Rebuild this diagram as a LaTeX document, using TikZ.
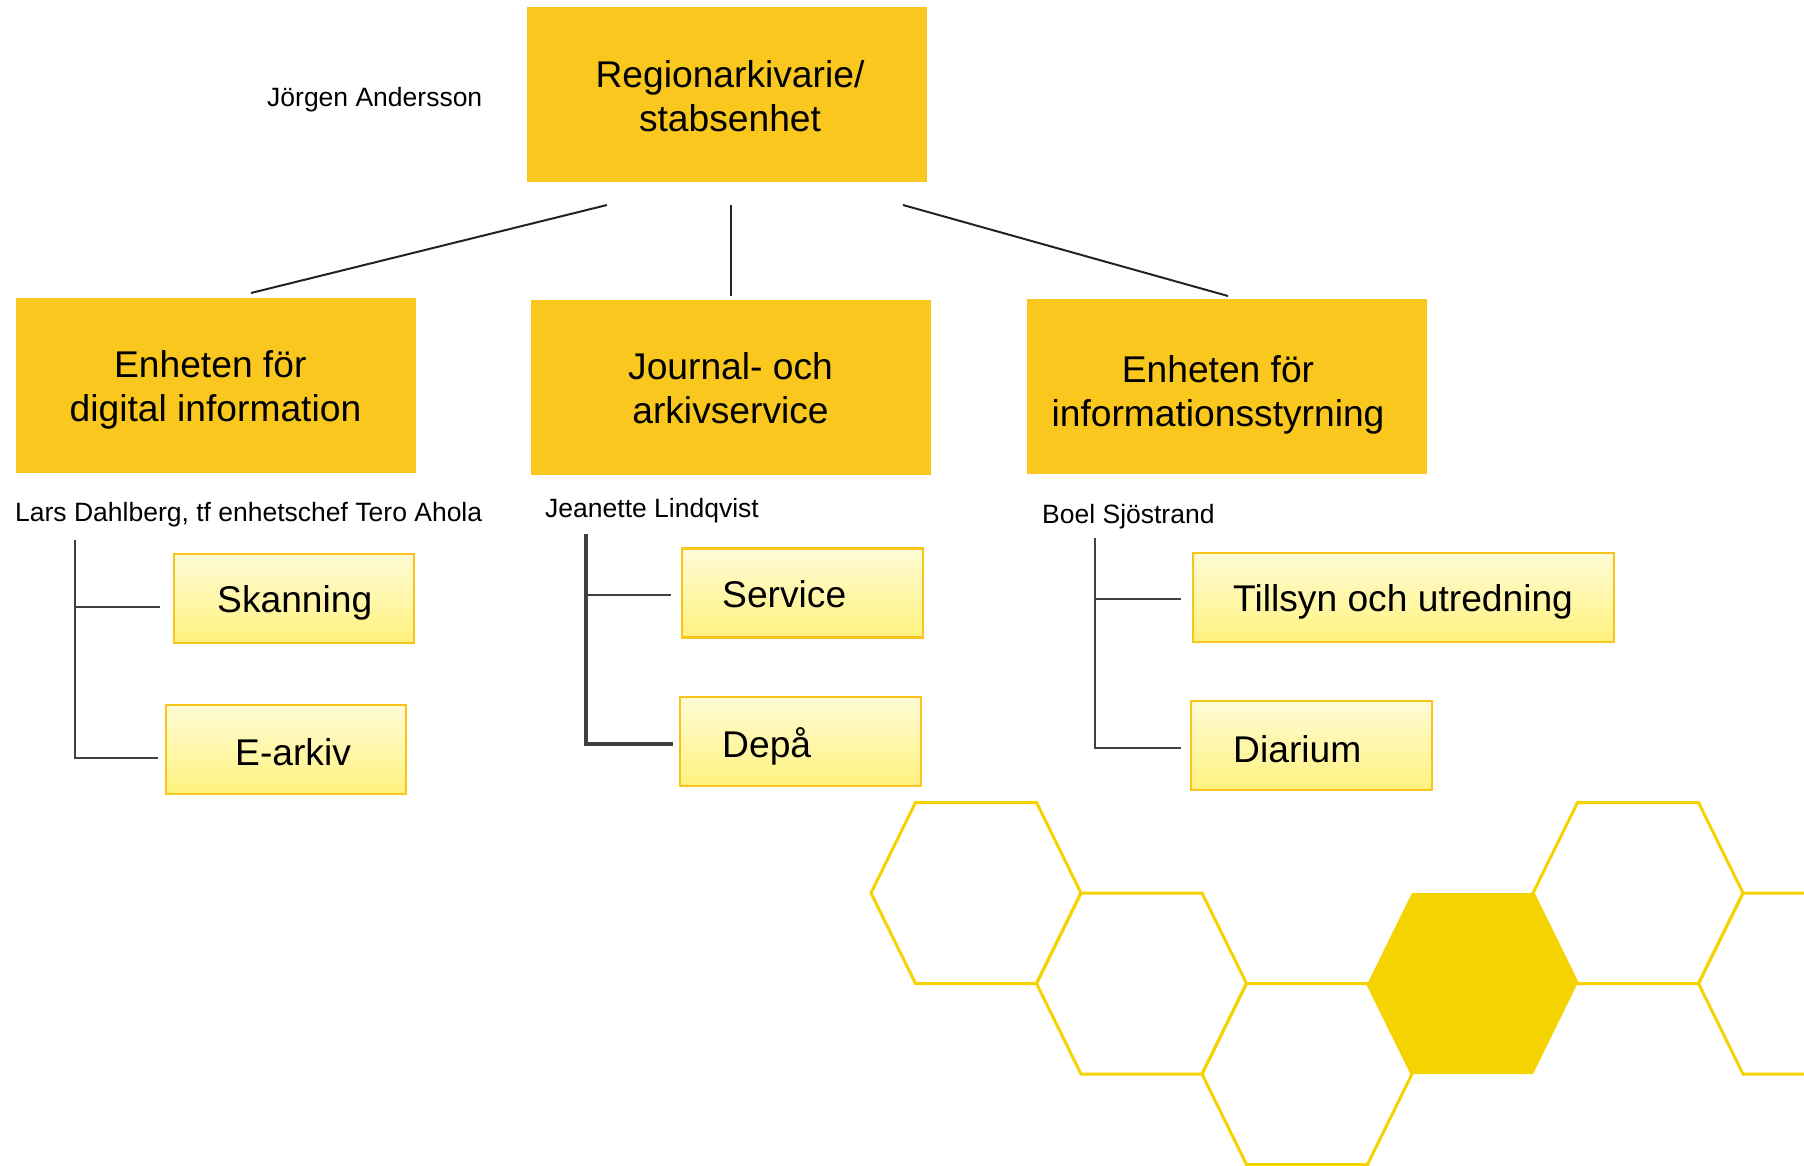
\documentclass[tikz,border=0pt]{standalone}
\usepackage{fontspec}
\setmainfont{Liberation Sans}
\usetikzlibrary{positioning}
\definecolor{unitorange}{HTML}{F9C71E}
\definecolor{tasktop}{HTML}{FFFBD6}
\definecolor{taskbottom}{HTML}{FFF27E}
\definecolor{taskedge}{HTML}{F9C41C}
\definecolor{honey}{HTML}{F4D300}
\definecolor{wiregray}{HTML}{222222}
\definecolor{railgray}{HTML}{404040}
\tikzstyle{unit} = [rectangle, fill=unitorange, minimum width=400pt, minimum height=175pt, inner sep=0pt]
\tikzstyle{unittext} = [inner sep=0pt, align=center, font=\fontsize{37.2}{44}\selectfont]
\tikzstyle{task} = [rectangle, draw=taskedge, line width=2.5pt, top color=tasktop, bottom color=taskbottom, minimum height=89pt, inner sep=0pt]
\tikzstyle{tasktext} = [anchor=base west, inner sep=0pt, font=\fontsize{37.2}{44}\selectfont]
\tikzstyle{person} = [anchor=base west, inner sep=0pt, font=\fontsize{26.5}{32}\selectfont]
\tikzstyle{wire} = [draw=wiregray, line width=2pt]
\tikzstyle{rail} = [draw=railgray, line width=2.5pt]
\tikzstyle{cell} = [draw=honey, line width=3pt]

\begin{document}
\begin{tikzpicture}[x=1pt, y=-1pt]
	\useasboundingbox (0,0) rectangle (1804,1165);

	% honeycomb
	\begin{scope}
		\clip (0,0) rectangle (1804,1165);
		\foreach \cx/\cy in {976/893, 1141.5/983.5, 1307/1074, 1638/893, 1803.5/983.5}
			\draw[cell] ({\cx-105},\cy) -- ({\cx-60.5},{\cy-90.5}) -- ({\cx+60.5},{\cy-90.5}) -- ({\cx+105},\cy) -- ({\cx+60.5},{\cy+90.5}) -- ({\cx-60.5},{\cy+90.5}) -- cycle;
		\fill[honey] (1367.5,983.5) -- (1412,893) -- (1533,893) -- (1577.5,983.5) -- (1533,1074) -- (1412,1074) -- cycle;
	\end{scope}

	\node[unit] (chief) at (727,94.5) {};
	\node[unittext] (chieftxt) at ([xshift=3pt, yshift=-2pt]chief.center) {Regionarkivarie/\\stabsenhet};
	\node[unit] (digital) at (215.5,385) {};
	\node[unittext] (digitaltxt) at ([yshift=-5pt]digital.center) {Enheten för\hspace*{0.28em}\\digital information};
	\node[unit] (journal) at (730.5,387.5) {};
	\node[unittext] (journaltxt) at ([yshift=-1pt]journal.center) {Journal- och\\arkivservice};
	\node[unit] (styrning) at (1227,386.5) {};
	\node[unittext] (styrningtxt) at ([xshift=-9pt, yshift=-8.5pt]styrning.center) {Enheten för\\informationsstyrning};

	\node[person] (andersson) at (267,106) {Jörgen Andersson};
	\node[person] (dahlberg) at (15,521) {Lars Dahlberg, tf enhetschef Tero Ahola};
	\node[person] (lindqvist) at (545,517) {Jeanette Lindqvist};
	\node[person] (sjostrand) at (1042,523) {Boel Sjöstrand};

	% links from the top
	\coordinate (forkL) at (607,205);
	\coordinate (forkM) at (731,205);
	\coordinate (forkR) at (903,205);
	\coordinate (endL) at (251,293);
	\coordinate (endM) at (731,296);
	\coordinate (endR) at (1228,296);
	\draw[wire] (forkL) -- (endL);
	\draw[wire] (forkM) -- (endM);
	\draw[wire] (forkR) -- (endR);

	% groups
	\node[task, minimum width=240pt] (skanning) at (294,598.5) {};
	\node[tasktext] (skanningtxt) at (217,612) {Skanning};
	\node[task, minimum width=240pt] (earkiv) at (286,749.5) {};
	\node[tasktext] (earkivtxt) at (235,765) {E-arkiv};

	\node[task, minimum width=241pt] (service) at (802.5,593) {};
	\node[tasktext] (servicetxt) at (722,607) {Service};
	\node[task, minimum width=241pt] (depa) at (800.5,741.5) {};
	\node[tasktext] (depatxt) at (722,757) {Depå};

	\node[task, minimum width=421pt] (tillsyn) at (1403.5,597.5) {};
	\node[tasktext] (tillsyntxt) at (1233,611) {Tillsyn och utredning};
	\node[task, minimum width=241pt] (diarium) at (1311.5,745.5) {};
	\node[tasktext] (diariumtxt) at (1233,762) {Diarium};

	\coordinate (railL) at (75,540);
	\coordinate (railM) at (586,534);
	\coordinate (railR) at (1095,538);
	\coordinate (joinSkan) at ([xshift=-13pt, yshift=-8.5pt]skanning.west);
	\coordinate (joinEark) at ([xshift=-7pt, yshift=-8.5pt]earkiv.west);
	\coordinate (joinServ) at ([xshift=-10pt, yshift=-2pt]service.west);
	\coordinate (joinDepa) at ([xshift=-6pt, yshift=-2.5pt]depa.west);
	\coordinate (joinTill) at ([xshift=-11pt, yshift=-1.5pt]tillsyn.west);
	\coordinate (joinDiar) at ([xshift=-9pt, yshift=-2.5pt]diarium.west);
	\draw[rail] (railL) |- (joinEark);
	\draw[rail] (railL |- joinSkan) -- (joinSkan);
	\draw[rail, line width=3.5pt] (railM) |- (joinDepa);
	\draw[rail] (railM |- joinServ) -- (joinServ);
	\draw[rail] (railR) |- (joinDiar);
	\draw[rail] (railR |- joinTill) -- (joinTill);

\end{tikzpicture}
\end{document}
